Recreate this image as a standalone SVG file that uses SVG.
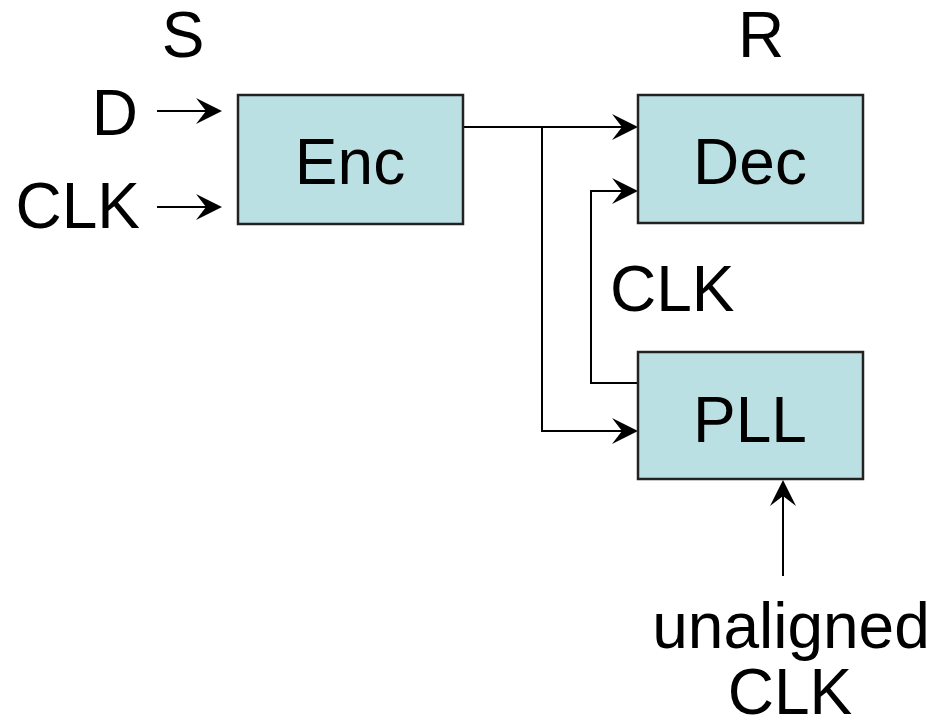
<svg xmlns="http://www.w3.org/2000/svg" width="949" height="728" viewBox="0 0 949 728">
<style>
.box{fill:#BBE0E3;stroke:#222;stroke-width:2.5}
.lbl{font-family:"Liberation Sans",Arial,sans-serif;font-size:64px;fill:#000}
.c{text-anchor:middle}
.r{text-anchor:end}
.w{fill:none;stroke:#000;stroke-width:2}
.hd{fill:#000;stroke:none}
</style>
<defs>
<path id="head" class="hd" d="M0,0 L-26,-13 L-16,0 L-26,13 Z"/>
</defs>
<g id="labels">
<text class="lbl c" x="183" y="57">S</text>
<text class="lbl c" x="761" y="57">R</text>
<text class="lbl r" x="138" y="135">D</text>
<text class="lbl r" x="140" y="228">CLK</text>
<text class="lbl" x="610" y="311">CLK</text>
<text class="lbl c" x="791" y="648">unaligned</text>
<text class="lbl c" x="790" y="714">CLK</text>
</g>
<g id="connectors">
<line class="w" x1="157" y1="111" x2="210" y2="111"/>
<use href="#head" transform="translate(222,111)"/>
<line class="w" x1="157" y1="207" x2="210" y2="207"/>
<use href="#head" transform="translate(222,207)"/>
<polyline class="w" points="463,127 626,127"/>
<use href="#head" transform="translate(638,127)"/>
<polyline class="w" points="542,127 542,431 626,431"/>
<use href="#head" transform="translate(638,431)"/>
<polyline class="w" points="638,383 591,383 591,191 626,191"/>
<use href="#head" transform="translate(638,191)"/>
<line class="w" x1="783" y1="576" x2="783" y2="492"/>
<use href="#head" transform="translate(783,480) rotate(-90)"/>
</g>
<g id="enc">
<rect class="box" x="238" y="95" width="225" height="129"/>
<text class="lbl c" x="350" y="184">Enc</text>
</g>
<g id="dec">
<rect class="box" x="638" y="95" width="225" height="128"/>
<text class="lbl c" x="750" y="184">Dec</text>
</g>
<g id="pll">
<rect class="box" x="638" y="352" width="225" height="127"/>
<text class="lbl c" x="750" y="442">PLL</text>
</g>
</svg>
